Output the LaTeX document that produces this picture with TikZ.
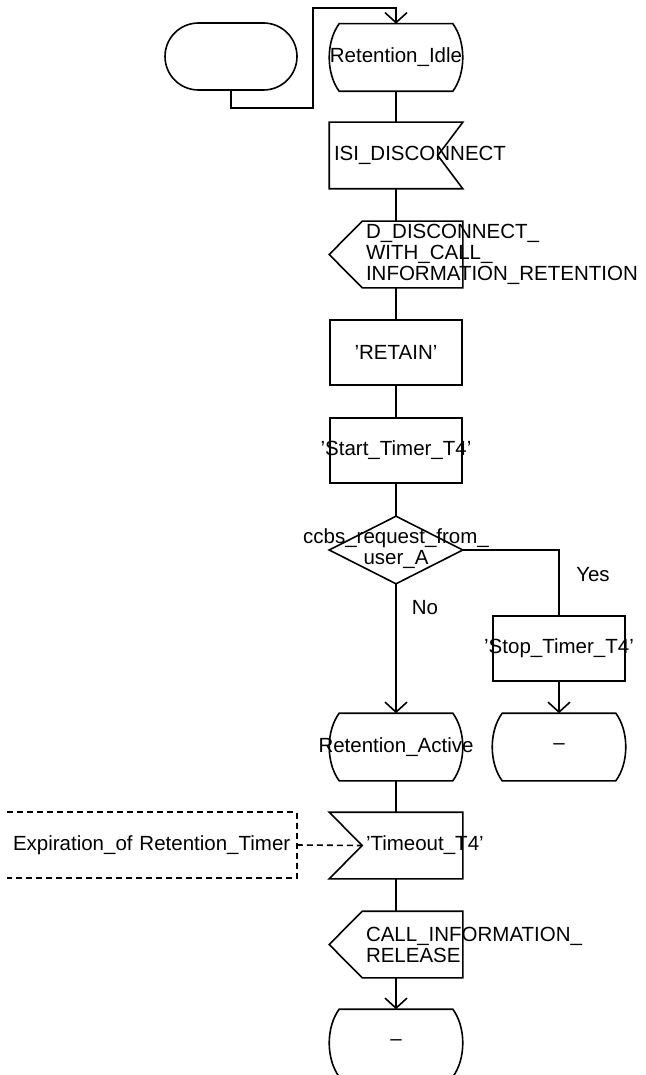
\documentclass[tikz,border=0pt]{standalone}
\usepackage{fontspec}
\setmainfont{Liberation Sans}
\usetikzlibrary{arrows.meta,shapes.misc}
\newcommand\cz[1]{\makebox[0pt][c]{#1}}
\newcommand\ind{\hspace*{32pt}}
\newcommand\sdlstate[1]{\draw ([xshift=10pt]#1.north west) -- ([xshift=-10pt]#1.north east)
  .. controls ([xshift=3.3pt,yshift=-18pt]#1.north east) and ([xshift=3.3pt,yshift=18pt]#1.south east) .. ([xshift=-10pt]#1.south east)
  -- ([xshift=10pt]#1.south west)
  .. controls ([xshift=-3.3pt,yshift=18pt]#1.south west) and ([xshift=-3.3pt,yshift=-18pt]#1.north west) .. ([xshift=10pt]#1.north west) -- cycle;}
\newcommand\sdlinright[1]{\draw (#1.north west) -- (#1.north east) -- ([xshift=-25pt]#1.east) -- (#1.south east) -- (#1.south west) -- cycle;}
\newcommand\sdlinleft[1]{\draw (#1.north west) -- ([xshift=33pt]#1.west) -- (#1.south west) -- (#1.south east) -- (#1.north east) -- cycle;}
\newcommand\sdlout[1]{\draw (#1.west) -- ([xshift=33pt]#1.north west) -- (#1.north east) -- (#1.south east) -- ([xshift=33pt]#1.south west) -- cycle;}
\newcommand\sdldec[1]{\draw (#1.north) -- (#1.east) -- (#1.south) -- (#1.west) -- cycle;}
\tikzset{
  txt/.style={inner sep=0pt, font=\fontsize{20.5}{21}\selectfont},
  base/.style={txt, minimum width=132pt, minimum height=65pt},
  taskbox/.style={base, draw},
  stt/.style={base, minimum height=66pt},
  lbox/.style={base, text width=124pt, align=left, inner xsep=4pt},
  stad/.style={draw, rounded rectangle, minimum width=132pt, minimum height=67pt, inner sep=0pt},
  arr/.style={-{Straight Barb[length=10pt,width=22pt]}},
  dsh/.style={dash pattern=on 6pt off 4pt}
}
\begin{document}
\hyphenpenalty=10000
\exhyphenpenalty=10000
\begin{tikzpicture}[x=1pt,y=-1pt,line width=1.6pt]
\clip (0,0) rectangle (645,1075);
\node[stad] (start) at (231,56.5) {};
\node[stt] (idle) at (396,57.5) {\cz{Retention\_Idle}};
\node[lbox] (isi) at (396,155.5) {ISI\_DISCONNECT};
\node[lbox] (ddisc) at (396,254.5) {\ind D\_DISCONNECT\_\\\ind WITH\_CALL\_\\\ind INFORMATION\_RETENTION};
\node[taskbox] (retain) at (396,352.5) {\cz{'RETAIN'}};
\node[taskbox] (stimer) at (396,450.5) {\cz{'Start\_Timer\_T4'}};
\node[stt] (dec) at (396,550) {\cz{\begin{tabular}{@{}c@{}}ccbs\_request\_from\_\\user\_A\end{tabular}}};
\node[txt] (yes) at (593,575) {Yes};
\node[txt] (no) at (425,608) {No};
\node[taskbox] (stop) at (559,648.5) {\cz{'Stop\_Timer\_T4'}};
\node[stt] (active) at (396,747) {\cz{Retention\_Active}};
\node[stt] (dash1) at (559,747) {\cz{\textendash}};
\node[lbox] (timeout) at (396,845.5) {\ind 'Timeout\_T4'};
\node[lbox, text width=278pt, inner xsep=5pt, minimum height=64pt] (expir) at (152,845) {Expiration\_of~Retention\_Timer};
\node[lbox] (call) at (396,944.5) {\ind CALL\_INFORMATION\_\\\ind RELEASE};
\node[stt] (dash2) at (396,1043) {\cz{\textendash}};
\coordinate (bend) at (313,8);
% shapes
\sdlstate{idle}
\sdlinright{isi}
\sdlout{ddisc}
\sdldec{dec}
\sdlstate{active}
\sdlstate{dash1}
\sdlinleft{timeout}
\sdlout{call}
\sdlstate{dash2}
\draw[dsh] (expir.north west) -- (expir.north east) -- (expir.south east) -- (expir.south west);
% connectors
\draw[arr] (start.south) -- ++(0,17) -| (bend) -| (idle.north);
\draw (idle.south) -- (isi.north);
\draw (isi.south) -- (ddisc.north);
\draw (ddisc.south) -- (retain.north);
\draw (retain.south) -- (stimer.north);
\draw (stimer.south) -- (dec.north);
\draw[arr] (dec.south) -- (active.north);
\draw (dec.east) -| (stop.north);
\draw[arr] (stop.south) -- (dash1.north);
\draw (active.south) -- (timeout.north);
\draw[dsh] (expir.east) -- ([xshift=33pt]timeout.west);
\draw (timeout.south) -- (call.north);
\draw[arr] (call.south) -- (dash2.north);
\end{tikzpicture}
\end{document}
